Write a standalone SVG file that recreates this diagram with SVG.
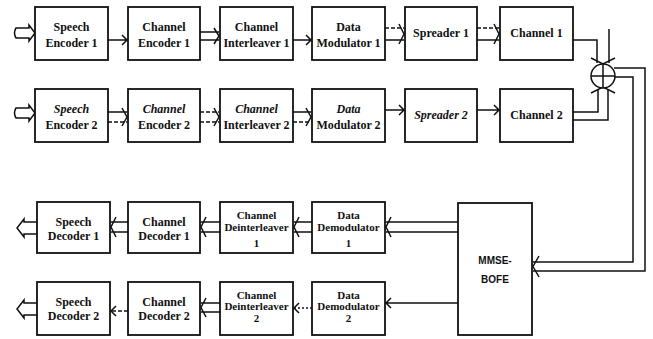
<svg xmlns="http://www.w3.org/2000/svg" width="653" height="339" viewBox="0 0 653 339">
<defs>
<style>
.box{fill:#fff;stroke:#111;stroke-width:1.8}
.ln{fill:none;stroke:#111;stroke-width:1.5}
.ds{stroke-dasharray:4 2}
.dt{stroke-dasharray:2 2}
.t{font-family:"Liberation Serif","Times New Roman",serif;font-weight:bold;font-size:12px;fill:#111;text-anchor:middle}
.s{font-size:11px}
.i{font-style:italic}
.m{font-family:"Liberation Sans",Arial,sans-serif;font-weight:bold;font-size:10px;fill:#111;text-anchor:middle}
</style>
</defs>
<rect width="653" height="339" fill="#fff"/>

<g id="connectors">
<!-- inputs -->
<path class="ln" d="M16,28 H29 V25 L35,33 L29,41 V38 H16 Q13,33 16,28 Z"/>
<path class="ln" d="M16,108 H29 V105 L35,113 L29,121 V118 H16 Q13,113 16,108 Z"/>
<!-- row 1 -->
<path class="ln" d="M108,40 H127 M122,35 L127,40 L122,45"/>
<path class="ln" d="M200,32 H219 M200,40 H219 M214,28 L219,36 L214,44"/>
<path class="ln" d="M293,40 H311 M306,35 L311,40 L306,45"/>
<path class="ln ds" d="M385,28 H404"/>
<path class="ln" d="M385,40 H404 M399,24 L404,34 L399,44"/>
<path class="ln ds" d="M477,28 H499"/>
<path class="ln" d="M477,40 H499 M494,24 L499,34 L494,44"/>
<!-- row 2 -->
<path class="ln" d="M108,112 H127 M122,108 L127,117 L122,126"/>
<path class="ln ds" d="M108,122 H127"/>
<path class="ln ds" d="M200,112 H219 M200,122 H219"/>
<path class="ln" d="M214,108 L219,117 L214,126"/>
<path class="ln" d="M293,112 H311 M306,108 L311,117 L306,126"/>
<path class="ln ds" d="M293,122 H311"/>
<path class="ln" d="M385,110 H404 M399,105 L404,110 L399,115"/>
<path class="ln" d="M477,110 H499 M494,105 L499,110 L494,115"/>
<!-- to summing junction -->
<path class="ln" d="M573,40 H597 V63"/>
<path class="ln" d="M609,29 V63"/>
<path class="ln" d="M591,58 L603,64 L615,58"/>
<path class="ln" d="M573,112 H598 V89"/>
<path class="ln" d="M573,120 H608 V89"/>
<path class="ln" d="M591,93 L603,87 L615,93"/>
<!-- junction to MMSE -->
<path class="ln" d="M614,68 H645 V271 H533"/>
<path class="ln" d="M614,77 H633 V262 H533"/>
<path class="ln" d="M539,256 L533,266.5 L539,277"/>
<!-- MMSE outputs -->
<path class="ln" d="M458,222 H386 M458,232 H386 M391,217 L386,227 L391,237"/>
<path class="ln" d="M458,303 H386 M391,298 L386,303 L391,308"/>
<!-- row 3 -->
<path class="ln" d="M312,222 H294 M312,232 H294 M299,217 L294,227 L299,237"/>
<path class="ln" d="M220,222 H201 M220,232 H201 M206,217 L201,227 L206,237"/>
<path class="ln" d="M128,222 H111 M128,232 H111 M116,217 L111,227 L116,237"/>
<path class="ln" d="M37,222 H24 V219 L17,228 L24,237 V234 H37"/>
<!-- row 4 -->
<path class="ln dt" d="M312,308 H294"/>
<path class="ln" d="M299,303 L294,308 L299,313"/>
<path class="ln" d="M220,303 H201 M220,312 H201 M206,298 L201,307.5 L206,317"/>
<path class="ln ds" d="M128,311 H111"/>
<path class="ln" d="M116,306 L111,311 L116,316"/>
<path class="ln" d="M37,303 H24 V300 L17,309 L24,318 V315 H37"/>
</g>

<g id="sum">
<circle class="ln" cx="603" cy="76" r="12" style="fill:#fff"/>
<path class="ln" d="M591,76 H615 M603,64 V88"/>
</g>

<g id="speech-encoder-1"><rect class="box" x="35" y="7" width="73" height="53"/><text class="t" x="71.5" y="31">Speech</text><text class="t" x="71.5" y="47">Encoder 1</text></g>
<g id="channel-encoder-1"><rect class="box" x="128" y="7" width="72" height="53"/><text class="t" x="164" y="31">Channel</text><text class="t" x="164" y="47">Encoder 1</text></g>
<g id="channel-interleaver-1"><rect class="box" x="220" y="7" width="73" height="53"/><text class="t" x="256.5" y="31">Channel</text><text class="t" x="256.5" y="47">Interleaver 1</text></g>
<g id="data-modulator-1"><rect class="box" x="312" y="7" width="73" height="53"/><text class="t" x="348.5" y="31">Data</text><text class="t" x="348.5" y="47">Modulator 1</text></g>
<g id="spreader-1"><rect class="box" x="405" y="7" width="72" height="53"/><text class="t" x="441" y="37">Spreader 1</text></g>
<g id="channel-1"><rect class="box" x="500" y="7" width="73" height="53"/><text class="t" x="536.5" y="37">Channel 1</text></g>

<g id="speech-encoder-2"><rect class="box" x="35" y="89" width="73" height="53"/><text class="t i" x="71.5" y="113">Speech</text><text class="t" x="71.5" y="129">Encoder 2</text></g>
<g id="channel-encoder-2"><rect class="box" x="128" y="89" width="72" height="53"/><text class="t i" x="164" y="113">Channel</text><text class="t" x="164" y="129">Encoder 2</text></g>
<g id="channel-interleaver-2"><rect class="box" x="220" y="89" width="73" height="53"/><text class="t i" x="256.5" y="113">Channel</text><text class="t" x="256.5" y="129">Interleaver 2</text></g>
<g id="data-modulator-2"><rect class="box" x="312" y="89" width="73" height="53"/><text class="t i" x="348.5" y="113">Data</text><text class="t" x="348.5" y="129">Modulator 2</text></g>
<g id="spreader-2"><rect class="box" x="405" y="89" width="72" height="53"/><text class="t i" x="441" y="119">Spreader 2</text></g>
<g id="channel-2"><rect class="box" x="500" y="89" width="73" height="53"/><text class="t" x="536.5" y="119">Channel 2</text></g>

<g id="speech-decoder-1"><rect class="box" x="37" y="202" width="73" height="51"/><text class="t" x="73.5" y="226">Speech</text><text class="t" x="73.5" y="240">Decoder 1</text></g>
<g id="channel-decoder-1"><rect class="box" x="128" y="202" width="72" height="51"/><text class="t" x="164" y="226">Channel</text><text class="t" x="164" y="240">Decoder 1</text></g>
<g id="channel-deinterleaver-1"><rect class="box" x="220" y="202" width="73" height="51"/><text class="t s" x="256.5" y="219">Channel</text><text class="t s" x="256.5" y="231">Deinterleaver</text><text class="t s" x="256.5" y="247">1</text></g>
<g id="data-demodulator-1"><rect class="box" x="312" y="202" width="73" height="51"/><text class="t s" x="348.5" y="219">Data</text><text class="t s" x="348.5" y="231">Demodulator</text><text class="t s" x="348.5" y="247">1</text></g>

<g id="speech-decoder-2"><rect class="box" x="37" y="282" width="73" height="53"/><text class="t" x="73.5" y="306">Speech</text><text class="t" x="73.5" y="320">Decoder 2</text></g>
<g id="channel-decoder-2"><rect class="box" x="128" y="282" width="72" height="53"/><text class="t" x="164" y="306">Channel</text><text class="t" x="164" y="320">Decoder 2</text></g>
<g id="channel-deinterleaver-2"><rect class="box" x="220" y="282" width="73" height="53"/><text class="t s" x="256.5" y="299">Channel</text><text class="t s" x="256.5" y="310">Deinterleaver</text><text class="t s" x="256.5" y="322">2</text></g>
<g id="data-demodulator-2"><rect class="box" x="312" y="282" width="73" height="53"/><text class="t s" x="348.5" y="299">Data</text><text class="t s" x="348.5" y="310">Demodulator</text><text class="t s" x="348.5" y="322">2</text></g>

<g id="mmse-bofe"><rect class="box" x="458" y="203" width="74" height="132"/><text class="m" x="495" y="264">MMSE-</text><text class="m" x="495" y="283">BOFE</text></g>
</svg>
